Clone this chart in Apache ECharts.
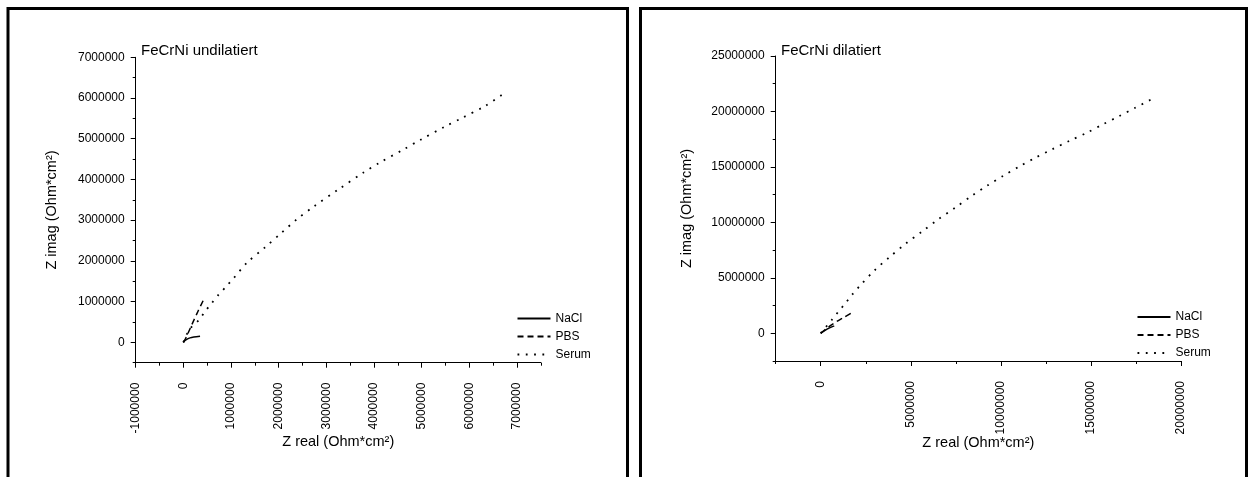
<!DOCTYPE html>
<html>
<head>
<meta charset="utf-8">
<script src="https://cdn.jsdelivr.net/npm/echarts@6/dist/echarts.min.js"></script>
<style>
html,body{margin:0;padding:0;background:#fff;}
#c{width:1250px;height:477px;}
</style>
</head>
<body>
<div id="c"></div>
<script>
// ---- data (Ohm*cm^2) ----
const undilNaClX = [0, 30000, 80000, 140000, 220000, 350000];
const undilNaClY = [0, 40000, 80000, 110000, 130000, 150000];
const undilPBSX = [0, 50000, 100000, 180000, 310000, 430000];
const undilPBSY = [0, 100000, 230000, 440000, 770000, 1060000];
const undilSerumX = [0, 130000, 330000, 450000, 580000, 740000, 890000, 1050000, 1340000, 1710000, 2050000, 2380000, 2730000, 3260000, 3780000, 4100000, 4640000, 4970000, 5490000, 5830000, 6340000, 6710000];
const undilSerumY = [0, 320000, 550000, 750000, 940000, 1170000, 1360000, 1570000, 1960000, 2330000, 2680000, 3020000, 3330000, 3760000, 4170000, 4400000, 4750000, 4970000, 5300000, 5500000, 5810000, 6100000];

const dilNaClX = [0, 150000, 350000, 550000, 750000];
const dilNaClY = [0, 170000, 370000, 530000, 670000];
const dilPBSX = [0, 300000, 600000, 880000, 1300000, 1770000];
const dilPBSY = [0, 400000, 750000, 1050000, 1450000, 1900000];
const dilSerumX = [0, 630000, 1000000, 1370000, 1740000, 2140000, 2980000, 3820000, 4710000, 5640000, 6520000, 7470000, 8350000, 9240000, 10120000, 11050000, 11930000, 12860000, 13810000, 14760000, 15690000, 16570000, 17460000, 18340000];
const dilSerumY = [0, 1240000, 1990000, 2710000, 3470000, 4220000, 5660000, 6870000, 8070000, 9190000, 10270000, 11330000, 12350000, 13310000, 14190000, 15060000, 15840000, 16600000, 17350000, 18070000, 18860000, 19580000, 20330000, 21080000];

// ---- tick labels ----
const undilXTicks = [-1000000, 0, 1000000, 2000000, 3000000, 4000000, 5000000, 6000000, 7000000];
const undilYTicks = [0, 1000000, 2000000, 3000000, 4000000, 5000000, 6000000, 7000000];
const dilXTicks = [0, 5000000, 10000000, 15000000, 20000000];
const dilYTicks = [0, 5000000, 10000000, 15000000, 20000000, 25000000];

const seriesNames = ['NaCl', 'PBS', 'Serum'];
const titles = ['FeCrNi undilatiert', 'FeCrNi dilatiert'];
const xName = 'Z real (Ohm*cm²)';
const yName = 'Z imag (Ohm*cm²)';

const FONT = '"Liberation Sans", Arial, sans-serif';
const zip = (xs, ys) => xs.map((x, i) => [x, ys[i]]);

function minorAxis(grid, min, max, step, isX) {
  return {
    type: 'value', gridIndex: grid, min: min, max: max, interval: step,
    position: isX ? 'bottom' : 'left',
    axisLine: { show: true, onZero: false, lineStyle: { color: '#000', width: 1 } },
    axisTick: { show: true, inside: false, length: 3, lineStyle: { color: '#000', width: 1 } },
    axisLabel: { show: false },
    splitLine: { show: false }
  };
}
function majorAxis(grid, min, max, ticks, isX, name, nameGap) {
  return {
    type: 'value', gridIndex: grid, min: min, max: max,
    position: isX ? 'bottom' : 'left',
    name: name, nameLocation: 'middle', nameGap: nameGap, nameMoveOverlap: false,
    nameTextStyle: { color: '#000', fontSize: 14.5, fontFamily: FONT },
    axisLine: { show: false, onZero: false },
    axisTick: { show: true, inside: false, length: 5, customValues: ticks, lineStyle: { color: '#000', width: 1 } },
    axisLabel: {
      show: true, customValues: ticks, color: '#000', fontSize: 12, fontFamily: FONT,
      rotate: isX ? 90 : 0, margin: isX ? 20 : 11,
      formatter: v => String(v)
    },
    splitLine: { show: false }
  };
}

const styles = {
  NaCl: { type: 'solid', width: 1.5 },
  PBS: { type: [6, 4], width: 1.5 },
  Serum: { type: [1.8, 6.5], width: 1.8 }
};
function mkSeries(name, data, axisIdx) {
  return {
    type: 'line', name: name, data: data,
    xAxisIndex: axisIdx, yAxisIndex: axisIdx,
    symbol: 'none', showSymbol: false, smooth: 0.3,
    lineStyle: Object.assign({ color: '#000' }, styles[name]),
    itemStyle: { color: '#000' },
    emphasis: { disabled: true },
    animation: false
  };
}
function mkLegend(left, top) {
  return {
    data: seriesNames, orient: 'vertical', left: left, top: top, padding: 0,
    itemWidth: 33, itemHeight: 12, itemGap: 6,
    itemStyle: { color: 'rgba(0,0,0,0)', borderWidth: 0, opacity: 0 },
    textStyle: { color: '#000', fontSize: 12, fontFamily: FONT }, selectedMode: false
  };
}

const chart = echarts.init(document.getElementById('c'), null, { renderer: 'canvas' });
chart.setOption({
  backgroundColor: '#fff',
  animation: false,
  title: [
    { text: titles[0], left: 136, top: 38, textStyle: { fontSize: 15, fontWeight: 'normal', color: '#000', fontFamily: FONT } },
    { text: titles[1], left: 776, top: 38, textStyle: { fontSize: 15, fontWeight: 'normal', color: '#000', fontFamily: FONT } }
  ],
  legend: [mkLegend(516.5, 312.5), mkLegend(1136.5, 311)],
  grid: [
    { left: 135.7, top: 57.3, width: 405.1, height: 305.4, containLabel: false },
    { left: 775.7, top: 56, width: 405.3, height: 305, containLabel: false }
  ],
  xAxis: [
    minorAxis(0, -1000000, 7500000, 500000, true),
    majorAxis(0, -1000000, 7500000, undilXTicks, true, xName, 72),
    minorAxis(1, -2500000, 20000000, 2500000, true),
    majorAxis(1, -2500000, 20000000, dilXTicks, true, xName, 74)
  ],
  yAxis: [
    minorAxis(0, -500000, 7000000, 500000, false),
    majorAxis(0, -500000, 7000000, undilYTicks, false, yName, 76),
    minorAxis(1, -2500000, 25000000, 2500000, false),
    majorAxis(1, -2500000, 25000000, dilYTicks, false, yName, 81)
  ],
  series: [
    mkSeries('NaCl', zip(undilNaClX, undilNaClY), 0),
    mkSeries('PBS', zip(undilPBSX, undilPBSY), 0),
    mkSeries('Serum', zip(undilSerumX, undilSerumY), 0),
    mkSeries('NaCl', zip(dilNaClX, dilNaClY), 2),
    mkSeries('PBS', zip(dilPBSX, dilPBSY), 2),
    mkSeries('Serum', zip(dilSerumX, dilSerumY), 2)
  ],
  graphic: [
    { type: 'rect', shape: { x: 8, y: 8.5, width: 619.5, height: 520 }, style: { fill: null, stroke: '#000', lineWidth: 3 }, silent: true },
    { type: 'rect', shape: { x: 640.5, y: 8.5, width: 606, height: 520 }, style: { fill: null, stroke: '#000', lineWidth: 3 }, silent: true }
  ]
});
</script>
</body>
</html>
